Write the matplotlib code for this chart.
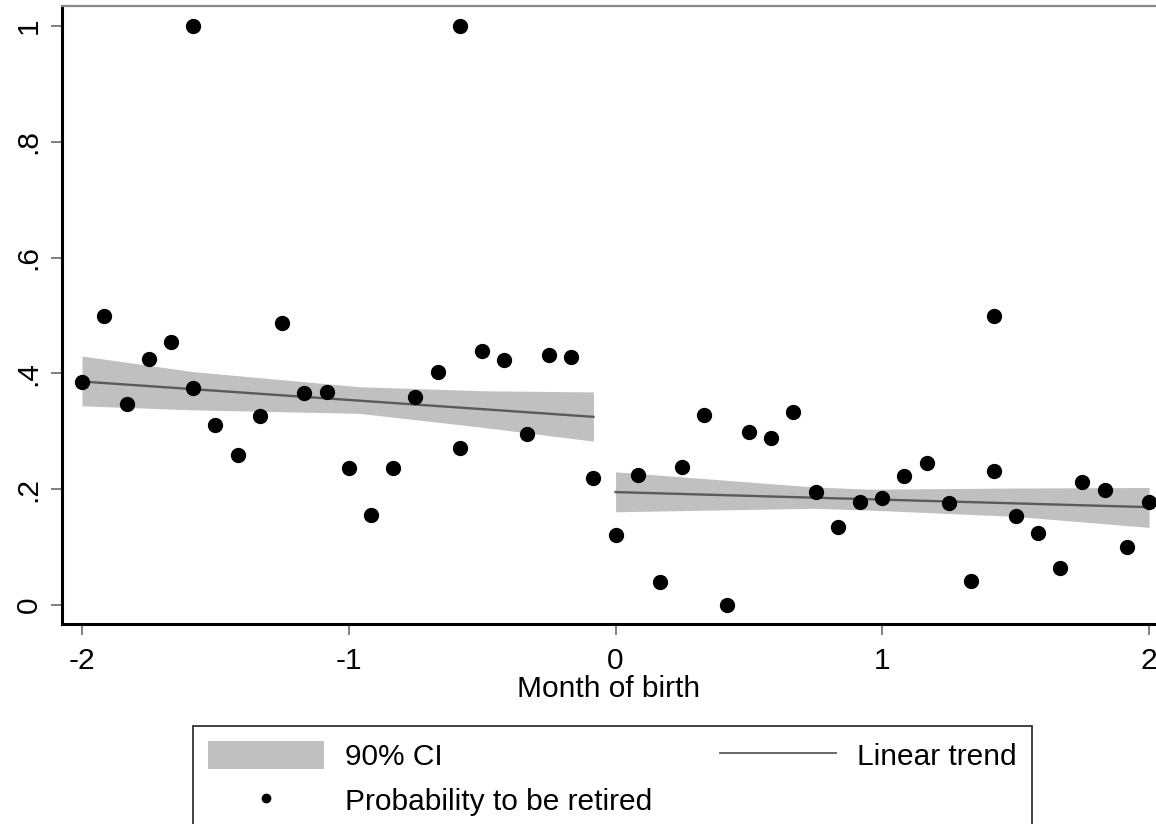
import matplotlib
matplotlib.use("Agg")
import matplotlib.pyplot as plt
from matplotlib.patches import Patch
from matplotlib.lines import Line2D

plt.rcParams['font.family'] = ['Liberation Sans', 'DejaVu Sans']

# ---- data ----
x_left = [-2.000, -1.917, -1.833, -1.750, -1.667, -1.583, -1.583, -1.500, -1.417,
          -1.333, -1.250, -1.167, -1.083, -1.000, -0.917, -0.833, -0.750, -0.667,
          -0.583, -0.583, -0.500, -0.417, -0.333, -0.250, -0.167, -0.083]
y_left = [0.385, 0.499, 0.348, 0.424, 0.455, 1.000, 0.374, 0.311, 0.259,
          0.326, 0.487, 0.366, 0.368, 0.237, 0.155, 0.237, 0.360, 0.403,
          1.000, 0.271, 0.439, 0.423, 0.295, 0.431, 0.428, 0.219]

x_right = [0.000, 0.083, 0.167, 0.250, 0.333, 0.417, 0.500, 0.583, 0.667, 0.750,
           0.833, 0.917, 1.000, 1.083, 1.167, 1.250, 1.333, 1.417, 1.417, 1.500,
           1.583, 1.667, 1.750, 1.833, 1.917, 2.000]
y_right = [0.121, 0.225, 0.040, 0.238, 0.328, 0.000, 0.299, 0.288, 0.333, 0.195,
           0.135, 0.178, 0.185, 0.222, 0.246, 0.177, 0.041, 0.499, 0.232, 0.153,
           0.124, 0.064, 0.213, 0.199, 0.100, 0.178]

trend_left_x = [-2.000, -0.083]
trend_left_y = [0.386, 0.325]
trend_right_x = [0.000, 2.000]
trend_right_y = [0.195, 0.169]

ci_left_x = [-2.000, -1.583, -0.960, -0.500, -0.083]
ci_left_lo = [0.344, 0.337, 0.331, 0.307, 0.283]
ci_left_hi = [0.430, 0.403, 0.377, 0.370, 0.368]
ci_right_x = [0.000, 0.740, 0.950, 1.500, 2.000]
ci_right_lo = [0.161, 0.167, 0.164, 0.153, 0.134]
ci_right_hi = [0.230, 0.204, 0.200, 0.202, 0.203]

y_ticks = [0, 0.2, 0.4, 0.6, 0.8, 1.0]
y_ticklabels = ["0", ".2", ".4", ".6", ".8", "1"]
x_ticks = [-2, -1, 0, 1, 2]
x_ticklabels = ["-2", "-1", "0", "1", "2"]

# ---- figure ----
W, H = 1156, 824
FS = 21.5
fig = plt.figure(figsize=(W / 100, H / 100), dpi=100)
ax = fig.add_axes([62 / W, (H - 624) / H, (W - 62) / W, (624 - 6) / H])

band_color = '#c0c0c0'
line_color = '#5a5a5a'

ax.fill_between(ci_left_x, ci_left_lo, ci_left_hi, color=band_color, lw=0, zorder=1)
ax.fill_between(ci_right_x, ci_right_lo, ci_right_hi, color=band_color, lw=0, zorder=1)
ax.plot(trend_left_x, trend_left_y, color=line_color, lw=1.7, zorder=2)
ax.plot(trend_right_x, trend_right_y, color=line_color, lw=1.7, zorder=2)
ax.plot(x_left, y_left, 'o', color='black', ms=10, zorder=3, clip_on=False)
ax.plot(x_right, y_right, 'o', color='black', ms=10, zorder=3, clip_on=False)

ax.set_xlim(-2.075, 2.026)
ax.set_ylim(-0.0328, 1.0345)

ax.set_yticks(y_ticks)
ax.set_yticklabels(y_ticklabels, rotation=90, va='center', fontsize=FS)
ax.set_xticks(x_ticks)
ax.set_xticklabels(x_ticklabels, fontsize=FS)
ax.tick_params(axis='both', direction='out', length=8, width=1.3, color='#777777')
ax.tick_params(axis='x', pad=8.5)
ax.tick_params(axis='y', pad=6)

for side in ['left', 'bottom']:
    ax.spines[side].set_linewidth(2.2)
    ax.spines[side].set_color('black')
ax.spines['top'].set_color('#888888')
ax.spines['top'].set_linewidth(1.6)
ax.spines['right'].set_visible(False)

ax.set_xlabel("Month of birth", fontsize=FS, labelpad=0)

handles = [Patch(facecolor=band_color, edgecolor='none', label='90% CI'),
           Line2D([], [], ls='none', marker='o', color='black', ms=6,
                  label='Probability to be retired'),
           Line2D([], [], color=line_color, lw=1.3, label='Linear trend')]
leg = fig.legend(handles=handles, ncol=2, loc='upper left',
                 bbox_to_anchor=(193 / W, (H - 726) / H),
                 fontsize=FS, frameon=True, fancybox=False, edgecolor='black',
                 handlelength=3.9, handleheight=1.05, handletextpad=0.7,
                 columnspacing=2.25, labelspacing=0.5, borderpad=0.5,
                 borderaxespad=0)
leg.get_frame().set_linewidth(1.3)

fig.savefig("out.png", dpi=100, facecolor='white')
